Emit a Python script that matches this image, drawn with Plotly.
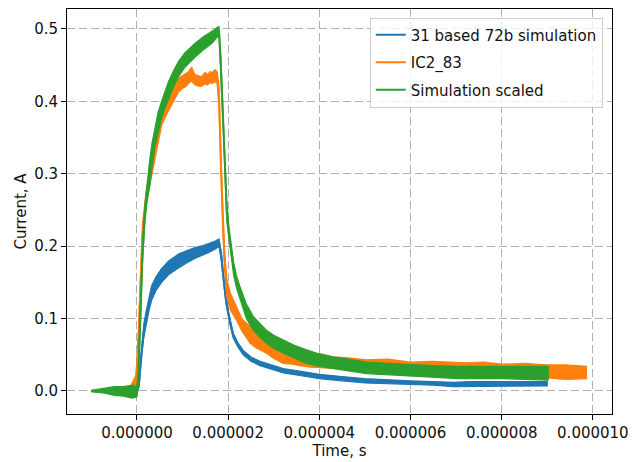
import numpy as np
import plotly.graph_objects as go

# ---------------- data (time in microseconds, current in A) ----------------
sim_t_us = [-1.0, -0.5, 0.0, 0.02, 0.05, 0.08, 0.11, 0.15, 0.2, 0.26, 0.32, 0.42, 0.54, 0.7, 0.91, 1.1, 1.27,
            1.45, 1.60, 1.72, 1.80, 1.85, 1.90, 1.95, 2.02, 2.11, 2.22, 2.33, 2.50, 2.70, 3.0, 3.21, 3.6,
            4.0, 4.5, 5.0, 6.0, 6.5, 6.94, 7.3, 8.0, 9.0]
sim_upper = [0.001, 0.001, 0.001, 0.004, 0.020, 0.045, 0.070, 0.092, 0.110, 0.129, 0.145, 0.158, 0.169, 0.180, 0.189, 0.194, 0.198,
             0.201, 0.204, 0.207, 0.210, 0.192, 0.160, 0.132, 0.106, 0.080, 0.066, 0.056, 0.047, 0.041, 0.035, 0.031, 0.027,
             0.023, 0.020, 0.017, 0.014, 0.013, 0.012, 0.013, 0.013, 0.013]
sim_lower = [-0.001, -0.001, -0.001, 0.000, 0.008, 0.030, 0.054, 0.074, 0.092, 0.110, 0.125, 0.139, 0.150, 0.161, 0.170, 0.177, 0.183,
             0.188, 0.192, 0.196, 0.200, 0.180, 0.150, 0.122, 0.098, 0.073, 0.060, 0.050, 0.041, 0.035, 0.029, 0.025, 0.021,
             0.017, 0.014, 0.011, 0.009, 0.008, 0.006, 0.007, 0.007, 0.007]

meas_t_us = [-0.5, -0.15, -0.08, -0.02, 0.03, 0.07, 0.12, 0.2, 0.285, 0.39, 0.47, 0.54, 0.62, 0.69, 0.8, 0.91, 1.0,
             1.08, 1.13, 1.17, 1.2, 1.27, 1.35, 1.42, 1.49, 1.55, 1.6, 1.66, 1.71, 1.76, 1.80, 1.84, 1.88,
             1.92, 1.97, 2.05, 2.18, 2.30, 2.40, 2.48, 2.6, 2.84, 3.0, 3.21, 3.4, 3.58, 3.8, 4.0, 4.3, 4.6,
             5.04, 5.5, 6.0, 6.5, 7.2, 7.6, 8.0, 8.5, 9.0, 9.4, 9.86]
meas_upper = [0.003, 0.006, 0.014, 0.022, 0.080, 0.160, 0.230, 0.275, 0.305, 0.336, 0.360, 0.381, 0.395, 0.405, 0.420, 0.432, 0.436,
              0.440, 0.441, 0.445, 0.447, 0.437, 0.435, 0.434, 0.440, 0.437, 0.441, 0.440, 0.444, 0.441, 0.420, 0.330, 0.250,
              0.195, 0.155, 0.135, 0.118, 0.100, 0.094, 0.089, 0.082, 0.070, 0.066, 0.061, 0.056, 0.054, 0.050, 0.052, 0.047, 0.046,
              0.043, 0.044, 0.040, 0.041, 0.039, 0.040, 0.037, 0.038, 0.036, 0.036, 0.034]
meas_lower = [-0.003, 0.000, 0.004, 0.008, 0.050, 0.120, 0.200, 0.255, 0.285, 0.322, 0.345, 0.367, 0.378, 0.385, 0.400, 0.413, 0.418,
              0.421, 0.425, 0.427, 0.428, 0.423, 0.421, 0.421, 0.424, 0.423, 0.426, 0.425, 0.427, 0.425, 0.390, 0.300, 0.225,
              0.170, 0.130, 0.112, 0.098, 0.083, 0.074, 0.066, 0.060, 0.052, 0.045, 0.038, 0.037, 0.035, 0.033, 0.033, 0.031, 0.030,
              0.028, 0.028, 0.026, 0.025, 0.024, 0.024, 0.022, 0.020, 0.018, 0.016, 0.017]

scaled_t_us = [-1.0, -0.7, -0.5, -0.3, -0.1, 0.0, 0.03, 0.07, 0.12, 0.17, 0.22, 0.285, 0.33, 0.39, 0.46, 0.54, 0.62, 0.69, 0.8,
               0.91, 1.05, 1.27, 1.45, 1.64, 1.72, 1.78, 1.80, 1.84, 1.90, 1.97, 2.02, 2.07, 2.12, 2.18, 2.26, 2.40,
               2.55, 2.70, 2.84, 3.0, 3.21, 3.45, 3.72, 4.0, 4.3, 4.6, 5.04, 5.5, 6.0, 6.5, 7.08, 8.0, 9.02]
scaled_upper = [0.001, 0.004, 0.006, 0.006, 0.008, 0.006, 0.030, 0.110, 0.200, 0.255, 0.288, 0.322, 0.342, 0.363, 0.384, 0.400, 0.415, 0.427, 0.442,
                0.455, 0.467, 0.480, 0.489, 0.496, 0.500, 0.503, 0.503, 0.460, 0.370, 0.260, 0.225, 0.200, 0.178, 0.160, 0.144, 0.120,
                0.103, 0.093, 0.084, 0.077, 0.070, 0.063, 0.057, 0.051, 0.047, 0.044, 0.040, 0.038, 0.036, 0.035, 0.034, 0.034, 0.034]
scaled_lower = [-0.001, -0.003, -0.006, -0.007, -0.010, -0.008, 0.010, 0.080, 0.175, 0.230, 0.262, 0.285, 0.310, 0.336, 0.357, 0.377, 0.392, 0.404, 0.420,
                0.434, 0.447, 0.461, 0.471, 0.480, 0.486, 0.490, 0.490, 0.440, 0.350, 0.235, 0.205, 0.183, 0.160, 0.143, 0.126, 0.100,
                0.084, 0.074, 0.066, 0.059, 0.052, 0.045, 0.038, 0.034, 0.031, 0.028, 0.024, 0.022, 0.020, 0.019, 0.017, 0.017, 0.015]

series_names = ["31 based 72b simulation", "IC2_83", "Simulation scaled"]
x_tick_vals = [0, 2e-6, 4e-6, 6e-6, 8e-6, 10e-6]
y_tick_vals = [0.0, 0.1, 0.2, 0.3, 0.4, 0.5]

# ---------------- figure ----------------
colors = ["#1f77b4", "#ff7f0e", "#2ca02c"]
series = [(sim_t_us, sim_upper, sim_lower), (meas_t_us, meas_upper, meas_lower),
          (scaled_t_us, scaled_upper, scaled_lower)]

FONT = "DejaVu Sans"
FS = 15
TXT = "#111"
fig = go.Figure()
for name, (t, up, lo), c in zip(series_names, series, colors):
    t_s = np.array(t) * 1e-6
    up = np.array(up)
    lo = np.array(lo)
    fig.add_trace(go.Scatter(
        x=np.concatenate([t_s, t_s[::-1]]), y=np.concatenate([up, lo[::-1]]),
        fill="toself", fillcolor=c, mode="lines", line=dict(color=c, width=1.2),
        showlegend=False, legendgroup=name, hoverinfo="skip"))
    fig.add_trace(go.Scatter(
        x=t_s, y=(up + lo) / 2, mode="lines", name=name, legendgroup=name,
        line=dict(color=c, width=2)))

axis_common = dict(
    showline=True, linecolor="black", linewidth=1, mirror=True,
    ticks="outside", ticklen=5, tickwidth=1, tickcolor="black",
    showgrid=True, gridcolor="#b0b0b0", gridwidth=1, griddash="8px,4px",
    zeroline=False, tickfont=dict(family=FONT, size=FS, color=TXT),
    ticklabeloverflow="allow", automargin=False,
)

fig.update_xaxes(range=[-1.535e-6, 10.42e-6], tickvals=x_tick_vals, tickformat=".6f",
                 title=dict(text="Time, s", standoff=3, font=dict(family=FONT, size=FS, color=TXT)),
                 **axis_common)
fig.update_yaxes(range=[-0.0318, 0.5276], tickvals=y_tick_vals, tickformat=".1f",
                 title=dict(text="Current, A", standoff=3, font=dict(family=FONT, size=FS, color=TXT)),
                 **axis_common)

fig.update_layout(
    width=632, height=462,
    margin=dict(l=67, r=20, t=9, b=48),
    plot_bgcolor="white", paper_bgcolor="white",
    legend=dict(x=0.983, y=0.979, xanchor="right", yanchor="top",
                bgcolor="rgba(255,255,255,0.8)", bordercolor="#cccccc", borderwidth=1,
                font=dict(family=FONT, size=FS, color=TXT),
                tracegroupgap=5),
)

fig.write_html("out.html", config={"displayModeBar": False},
               post_script="document.body.style.margin='0';")
